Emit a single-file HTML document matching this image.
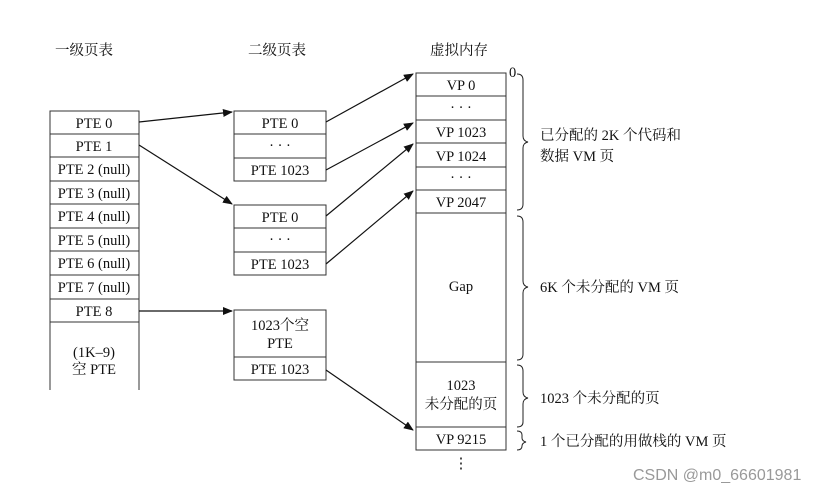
<!DOCTYPE html>
<html><head><meta charset="utf-8"><style>
body{margin:0;background:#fff}
svg text{font-family:"Liberation Serif","Noto Serif CJK SC",serif;font-size:14.5px;fill:#111}
</style></head><body>
<svg width="820" height="493" xmlns="http://www.w3.org/2000/svg">
<defs><marker id="a" markerWidth="10" markerHeight="8" refX="9" refY="4" orient="auto" markerUnits="userSpaceOnUse"><path d="M0,0 L10,4 L0,8 z" fill="#111"/></marker></defs>
<g stroke="#333" stroke-width="1" fill="none">
<path d="M50,390 V111 H139 V390"/>
<path d="M50,134H139M50,157H139M50,181H139M50,204H139M50,228H139M50,251H139M50,275H139M50,299H139M50,322H139"/>
<rect x="234" y="111" width="92" height="70"/><path d="M234,134H326M234,158H326"/>
<rect x="234" y="205" width="92" height="70"/><path d="M234,228H326M234,252H326"/>
<rect x="234" y="310" width="92" height="70"/><path d="M234,357H326"/>
<rect x="416" y="73" width="90" height="377"/>
<path d="M416,96H506M416,120H506M416,143H506M416,167H506M416,190H506M416,213H506M416,362H506M416,427H506"/>
</g>
<g stroke="#111" stroke-width="1.2" marker-end="url(#a)">
<line x1="139" y1="122" x2="232" y2="112"/>
<line x1="139" y1="145" x2="232" y2="204"/>
<line x1="139" y1="311" x2="232" y2="311"/>
<line x1="326" y1="122" x2="413" y2="74"/>
<line x1="326" y1="170" x2="413" y2="123"/>
<line x1="326" y1="216" x2="413" y2="144"/>
<line x1="326" y1="264" x2="413" y2="191"/>
<line x1="326" y1="370" x2="413" y2="430"/>
</g>
<g stroke="#222" stroke-width="1" fill="none">
<path d="M517,74 q6,0 6,6 V136 q0,5 5,6 q-5,1 -5,6 V204 q0,6 -6,6"/>
<path d="M517,216 q6,0 6,6 V281 q0,5 5,6 q-5,1 -5,6 V354 q0,6 -6,6"/>
<path d="M517,365 q6,0 6,6 V392 q0,5 5,6 q-5,1 -5,6 V422 q0,5 -6,5"/>
<path d="M517,431 q5,0 5,4 V438 q0,3 4,4 q-4,1 -4,4 V446 q0,4 -5,4"/>
</g>
<g text-anchor="middle">
<text x="84" y="55">一级页表</text><text x="277" y="55">二级页表</text><text x="459" y="55">虚拟内存</text>
<text x="94" y="128">PTE 0</text><text x="94" y="151">PTE 1</text><text x="94" y="174">PTE 2 (null)</text>
<text x="94" y="198">PTE 3 (null)</text><text x="94" y="221">PTE 4 (null)</text><text x="94" y="245">PTE 5 (null)</text>
<text x="94" y="268">PTE 6 (null)</text><text x="94" y="292">PTE 7 (null)</text><text x="94" y="316">PTE 8</text>
<text x="94" y="357">(1K–9)</text><text x="94" y="374">空 PTE</text>
<text x="280" y="128">PTE 0</text><text x="280" y="150">· · ·</text><text x="280" y="175">PTE 1023</text>
<text x="280" y="222">PTE 0</text><text x="280" y="244">· · ·</text><text x="280" y="269">PTE 1023</text>
<text x="280" y="330">1023个空</text><text x="280" y="348">PTE</text><text x="280" y="374">PTE 1023</text>
<text x="461" y="90">VP 0</text><text x="461" y="112">· · ·</text><text x="461" y="137">VP 1023</text>
<text x="461" y="161">VP 1024</text><text x="461" y="182">· · ·</text><text x="461" y="207">VP 2047</text>
<text x="461" y="291">Gap</text><text x="461" y="390">1023</text><text x="461" y="409">未分配的页</text>
<text x="461" y="444">VP 9215</text><text x="461" y="468">⋮</text>
</g>
<text x="509" y="77" font-size="12">0</text>
<text x="540" y="140">已分配的 2K 个代码和</text><text x="540" y="161">数据 VM 页</text>
<text x="540" y="292">6K 个未分配的 VM 页</text>
<text x="540" y="403">1023 个未分配的页</text>
<text x="540" y="446">1 个已分配的用做栈的 VM 页</text>
<text x="633" y="480" style="font-family:'Liberation Sans',sans-serif;font-size:16px;fill:#999">CSDN @m0_66601981</text>
</svg>
</body></html>
